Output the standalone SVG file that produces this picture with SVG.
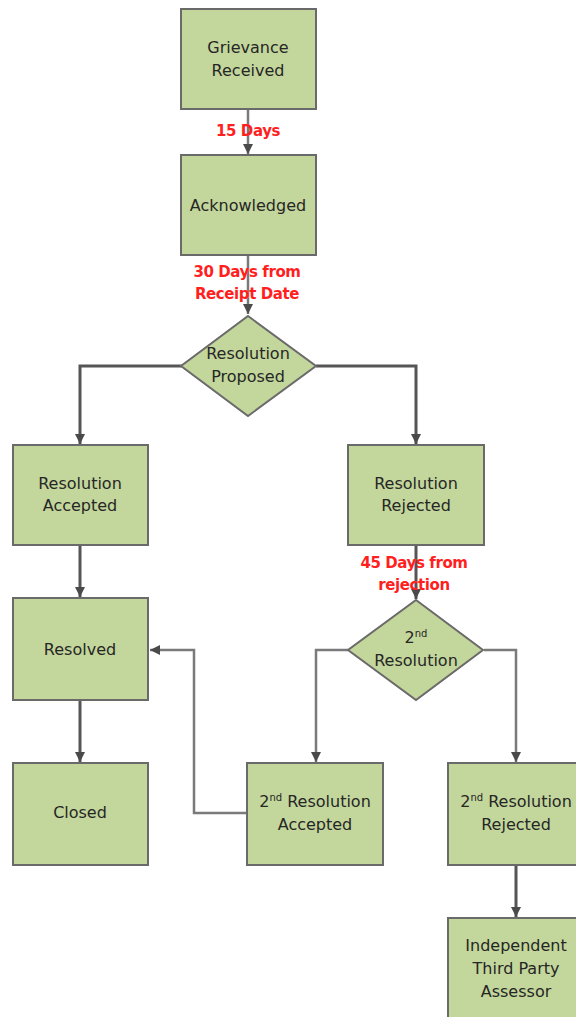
<svg xmlns="http://www.w3.org/2000/svg" width="576" height="1017" viewBox="0 0 576 1017">
<style>
.box{fill:#c3d69b;stroke:#6a6a6a;stroke-width:2}
.t{font-family:"DejaVu Sans","Liberation Sans",sans-serif;font-size:16px;fill:#262626;text-anchor:middle}
.sup{font-size:10px}
.lbl{font-family:"DejaVu Sans","Liberation Sans",sans-serif;font-size:15px;font-weight:bold;fill:#ff1f1f;text-anchor:middle;letter-spacing:-0.4px}
.c{fill:none;stroke:#555;stroke-width:3}
.h{fill:none;stroke:#7a7a7a;stroke-width:2.5}
</style>
<defs>
<marker id="ah" viewBox="0 0 10 10" refX="10" refY="5" markerWidth="10" markerHeight="10" markerUnits="userSpaceOnUse" orient="auto">
<path d="M0,0 L10,5 L0,10 Z" fill="#4a4a4a"/>
</marker>
</defs>
<rect width="576" height="1017" fill="#ffffff"/>
<g id="connectors">
<path class="h" d="M248,110 V154" marker-end="url(#ah)"/>
<path class="h" d="M248,255 V314" marker-end="url(#ah)"/>
<path class="c" d="M182,366 H80 V444" marker-end="url(#ah)"/>
<path class="c" d="M316,366 H416 V444" marker-end="url(#ah)"/>
<path class="c" d="M80,545 V597" marker-end="url(#ah)"/>
<path class="c" d="M80,700 V762" marker-end="url(#ah)"/>
<path class="c" d="M416,545 V599" marker-end="url(#ah)"/>
<path class="h" d="M348,650 H316 V762" marker-end="url(#ah)"/>
<path class="h" d="M484,650 H516 V762" marker-end="url(#ah)"/>
<path class="c" d="M516,865 V917" marker-end="url(#ah)"/>
<path class="h" d="M247,813 H194 V650 H150" marker-end="url(#ah)"/>
<text class="lbl" x="248" y="136">15 Days</text>
<text class="lbl" x="247" y="277">30 Days from</text>
<text class="lbl" x="247" y="299">Receipt Date</text>
<text class="lbl" x="414" y="568">45 Days from</text>
<text class="lbl" x="414" y="590">rejection</text>
</g>
<g id="grievance">
<rect class="box" x="181" y="9" width="135" height="100"/>
<text class="t" x="248" y="53">Grievance</text>
<text class="t" x="248" y="76">Received</text>
</g>
<g id="acknowledged">
<rect class="box" x="181" y="155" width="135" height="100"/>
<text class="t" x="248" y="211">Acknowledged</text>
</g>
<g id="proposed">
<polygon class="box" points="248,316 316,366 248,416 181,366"/>
<text class="t" x="248" y="359">Resolution</text>
<text class="t" x="248" y="382">Proposed</text>
</g>
<g id="accepted">
<rect class="box" x="13" y="445" width="135" height="100"/>
<text class="t" x="80" y="489">Resolution</text>
<text class="t" x="80" y="511">Accepted</text>
</g>
<g id="rejected">
<rect class="box" x="348" y="445" width="136" height="100"/>
<text class="t" x="416" y="489">Resolution</text>
<text class="t" x="416" y="511">Rejected</text>
</g>
<g id="second">
<polygon class="box" points="416,600 483,650 416,700 348,650"/>
<text class="t" x="416" y="643">2<tspan class="sup" dy="-6">nd</tspan></text>
<text class="t" x="416" y="666">Resolution</text>
</g>
<g id="resolved">
<rect class="box" x="13" y="598" width="135" height="102"/>
<text class="t" x="80" y="655">Resolved</text>
</g>
<g id="closed">
<rect class="box" x="13" y="763" width="135" height="102"/>
<text class="t" x="80" y="818">Closed</text>
</g>
<g id="second-accepted">
<rect class="box" x="247" y="763" width="136" height="102"/>
<text class="t" x="315" y="807">2<tspan class="sup" dy="-6">nd</tspan><tspan dy="6"> Resolution</tspan></text>
<text class="t" x="315" y="830">Accepted</text>
</g>
<g id="second-rejected">
<rect class="box" x="448" y="763" width="136" height="102"/>
<text class="t" x="516" y="807">2<tspan class="sup" dy="-6">nd</tspan><tspan dy="6"> Resolution</tspan></text>
<text class="t" x="516" y="830">Rejected</text>
</g>
<g id="assessor">
<rect class="box" x="448" y="918" width="136" height="104"/>
<text class="t" x="516" y="951">Independent</text>
<text class="t" x="516" y="974">Third Party</text>
<text class="t" x="516" y="997">Assessor</text>
</g>
</svg>
